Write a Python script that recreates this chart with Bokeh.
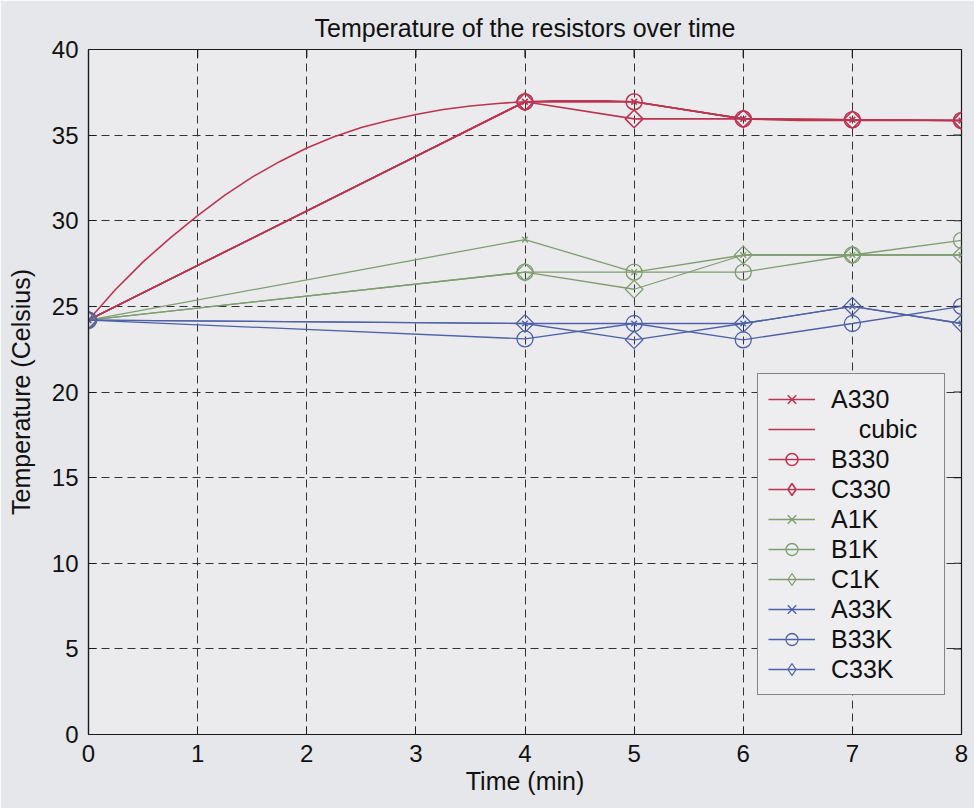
import math
from bokeh.plotting import figure
from bokeh.models import Legend, LegendItem, Range1d, FixedTicker
from bokeh.embed import file_html
from bokeh.resources import INLINE

# ---- data ----
times = [0, 4, 5, 6, 7, 8]
A330 = [24.2, 36.95, 36.95, 35.95, 35.9, 35.85]
B330 = [24.2, 36.95, 36.95, 35.95, 35.9, 35.85]
C330 = [24.2, 36.95, 35.95, 35.95, 35.9, 35.85]
A1K = [24.2, 28.9, 27.0, 28.0, 28.0, 28.0]
B1K = [24.2, 27.0, 27.0, 27.0, 28.0, 28.85]
C1K = [24.2, 27.0, 26.0, 28.0, 28.0, 28.0]
A33K = [24.2, 24.0, 24.0, 24.0, 25.0, 24.0]
B33K = [24.2, 23.1, 24.0, 23.05, 24.0, 25.0]
C33K = [24.2, 24.0, 23.05, 24.0, 25.0, 24.0]

cubic_t = [0, 0.25, 0.5, 0.75, 1, 1.25, 1.5, 1.75, 2, 2.25, 2.5, 2.75, 3, 3.25, 3.5, 3.75,
           4, 4.25, 4.5, 4.75, 5, 5.25, 5.5, 5.75, 6, 6.25, 6.5, 6.75, 7, 7.25, 7.5, 7.75, 8]
cubic_v = [24.2, 26.0, 27.6, 29.0, 30.3, 31.5, 32.55, 33.45, 34.25, 34.9, 35.45, 35.85,
           36.2, 36.5, 36.7, 36.85, 36.95, 37.0, 37.0, 37.0, 36.95, 36.7, 36.45, 36.2,
           35.95, 35.9, 35.85, 35.85, 35.85, 35.85, 35.85, 35.85, 35.85]

x_ticks = [0, 1, 2, 3, 4, 5, 6, 7, 8]
y_ticks = [0, 5, 10, 15, 20, 25, 30, 35, 40]

RED = "#bb3552"
GREEN = "#7f9d70"
BLUE = "#4f62a8"
FONT = "Liberation Sans"
INK = "#1a1a1a"

p = figure(frame_width=873, frame_height=685, output_backend="svg", toolbar_location=None,
           x_range=Range1d(0, 8), y_range=Range1d(0, 40),
           min_border_left=88, min_border_right=13, min_border_top=49, min_border_bottom=74)
# a range used only by the legend proxies, so they never show inside the frame
p.extra_x_ranges = {"legend_only": Range1d(100, 108)}

p.background_fill_color = "#ebebee"
p.border_fill_color = "#e6e7ea"
p.outline_line_color = INK
p.outline_line_width = 1.2

p.title.text = "Temperature of the resistors over time"
p.title.align = "center"
p.title.text_font = FONT
p.title.text_font_size = "25px"
p.title.text_font_style = "normal"
p.title.text_color = "#111111"
p.title.standoff = 15

p.xaxis.ticker = FixedTicker(ticks=x_ticks)
p.yaxis.ticker = FixedTicker(ticks=y_ticks)
for ax in (p.xaxis[0], p.yaxis[0]):
    ax.major_tick_in = 8
    ax.major_tick_out = 0
    ax.minor_tick_in = 0
    ax.minor_tick_out = 0
    ax.axis_line_color = INK
    ax.axis_line_width = 1.2
    ax.major_tick_line_color = INK
    ax.major_label_text_font = FONT
    ax.major_label_text_font_size = "24px"
    ax.major_label_text_color = "#111111"
    ax.axis_label_text_font = FONT
    ax.axis_label_text_font_size = "25px"
    ax.axis_label_text_font_style = "normal"
    ax.axis_label_text_color = "#111111"
p.xaxis.axis_label = "Time (min)"
p.yaxis.axis_label = "Temperature (Celsius)"
p.xaxis.major_label_standoff = 10
p.yaxis.major_label_standoff = 10
p.xaxis.axis_label_standoff = 2
p.yaxis.axis_label_standoff = 14

p.xgrid.ticker = FixedTicker(ticks=x_ticks[1:-1])
p.ygrid.ticker = FixedTicker(ticks=y_ticks[1:-1])
for g in (p.xgrid[0], p.ygrid[0]):
    g.grid_line_color = "#333333"
    g.grid_line_dash = "8 5"
    g.grid_line_width = 1

# inward ticks on the right and top edges of the box (clipped to the frame)
p.scatter([8] * (len(y_ticks) - 2), y_ticks[1:-1], marker="dash", size=16,
          line_color=INK, line_width=1.2)
p.scatter(x_ticks[1:-1], [40] * (len(x_ticks) - 2), marker="dash", size=16,
          angle=math.pi / 2, line_color=INK, line_width=1.2)

items = []

def series(label, ys, color, marker, lw):
    ln = p.line(times, ys, line_color=color, line_width=lw)
    if marker == "diamond":
        p.scatter(times, ys, marker="square", angle=math.pi / 4, size=12.5,
                  line_color=color, fill_color=None, line_width=lw)
        # legend proxy: drawn on the legend-only range (outside the frame)
        mk = p.scatter(times, ys, x_range_name="legend_only", marker="diamond", size=20,
                       line_color=color, fill_color=None, line_width=lw)
    elif marker == "circle":
        mk = p.scatter(times, ys, marker="circle", size=16, line_color=color,
                       fill_color=None, line_width=lw)
    else:
        mk = p.scatter(times, ys, marker="x", size=8, line_color=color, line_width=lw)
    items.append(LegendItem(label=label, renderers=[ln, mk]))

series("A330", A330, RED, "x", 1.6)
cub = p.line(cubic_t, cubic_v, line_color=RED, line_width=1.6)
items.append(LegendItem(label="\u00a0\u00a0\u00a0\u00a0cubic", renderers=[cub]))
series("B330", B330, RED, "circle", 1.6)
series("C330", C330, RED, "diamond", 1.6)
series("A1K", A1K, GREEN, "x", 1.3)
series("B1K", B1K, GREEN, "circle", 1.3)
series("C1K", C1K, GREEN, "diamond", 1.3)
series("A33K", A33K, BLUE, "x", 1.3)
series("B33K", B33K, BLUE, "circle", 1.3)
series("C33K", C33K, BLUE, "diamond", 1.3)

legend = Legend(items=items, location=(669, 39), margin=0,
                padding=10, spacing=0, glyph_width=47, glyph_height=30,
                label_height=30, label_width=103, label_standoff=16,
                label_text_font=FONT, label_text_font_size="25px",
                label_text_color="#111111",
                border_line_color=INK, border_line_width=1.2,
                background_fill_color="#eeeef0", background_fill_alpha=1.0)
p.add_layout(legend, "center")

open("out.html", "w").write(file_html(p, INLINE))
